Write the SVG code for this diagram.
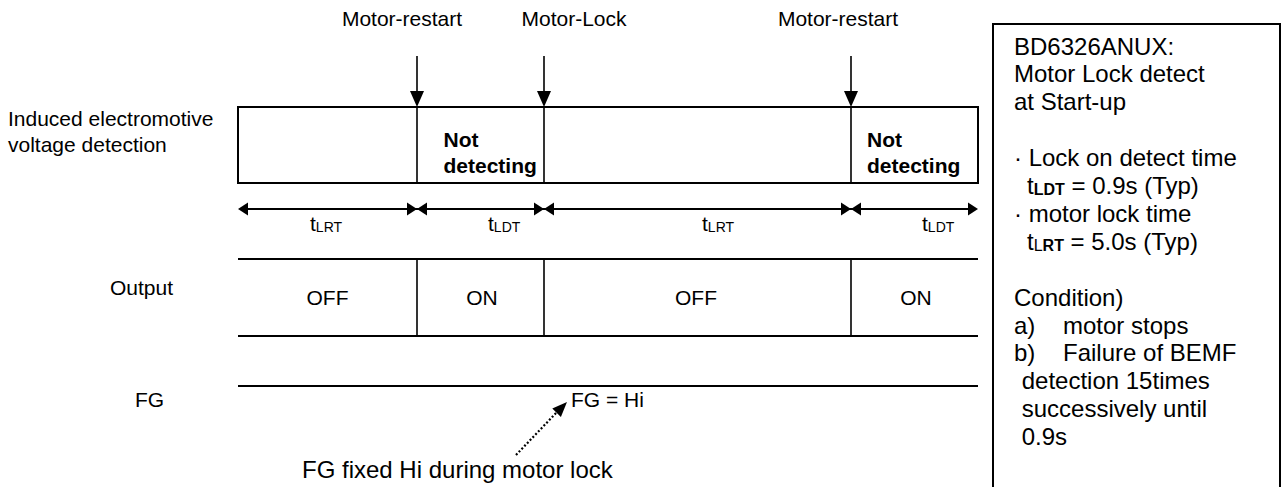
<svg xmlns="http://www.w3.org/2000/svg" width="1285" height="487" viewBox="0 0 1285 487">
<style>
text{font-family:"Liberation Sans",Arial,sans-serif;fill:#000}
.t21{font-size:21px}
.t24{font-size:24px}
.b{font-weight:bold}
.ln{stroke:#000;stroke-width:2;fill:none}
.thin{stroke:#000;stroke-width:1.6;fill:none}
.ah{fill:#000;stroke:none}
.sub{font-size:14px}
.psub{font-size:16px}
</style>
<rect width="1285" height="487" fill="#fff"/>

<g id="labels-left">
<text class="t21" x="8" y="126">Induced electromotive</text>
<text class="t21" x="8" y="152">voltage detection</text>
<text class="t21" x="110" y="295">Output</text>
<text class="t21" x="135" y="407">FG</text>
</g>

<g id="events">
<text class="t21" x="402" y="26" text-anchor="middle">Motor-restart</text>
<text class="t21" x="574" y="26" text-anchor="middle">Motor-Lock</text>
<text class="t21" x="838" y="26" text-anchor="middle">Motor-restart</text>
</g>

<g id="detection-row">
<rect class="ln" x="238" y="107" width="740" height="76"/>
<line class="thin" x1="417" y1="107" x2="417" y2="183"/>
<line class="thin" x1="544" y1="107" x2="544" y2="183"/>
<line class="thin" x1="851" y1="107" x2="851" y2="183"/>
<text class="t21 b" x="443.5" y="147">Not</text>
<text class="t21 b" x="443.5" y="173">detecting</text>
<text class="t21 b" x="867" y="147">Not</text>
<text class="t21 b" x="867" y="173">detecting</text>
</g>

<g id="output-row">
<line class="ln" x1="238" y1="259" x2="978" y2="259"/>
<line class="ln" x1="238" y1="336" x2="978" y2="336"/>
<line class="thin" x1="417" y1="259" x2="417" y2="336"/>
<line class="thin" x1="544" y1="259" x2="544" y2="336"/>
<line class="thin" x1="851" y1="259" x2="851" y2="336"/>
<text class="t21" x="327.5" y="305" text-anchor="middle">OFF</text>
<text class="t21" x="482" y="305" text-anchor="middle">ON</text>
<text class="t21" x="696" y="305" text-anchor="middle">OFF</text>
<text class="t21" x="916" y="305" text-anchor="middle">ON</text>
</g>

<g id="fg-row">
<line class="ln" x1="238" y1="386" x2="978" y2="386"/>
<text class="t21" x="571" y="407">FG = Hi</text>
<text class="t24" x="302" y="478">FG fixed Hi during motor lock</text>
</g>

<g id="connectors">
<line class="thin" x1="417" y1="56" x2="417" y2="92"/>
<polygon class="ah" points="410,91 424,91 417,107"/>
<line class="thin" x1="544" y1="56" x2="544" y2="92"/>
<polygon class="ah" points="537,91 551,91 544,107"/>
<line class="thin" x1="851" y1="56" x2="851" y2="92"/>
<polygon class="ah" points="844,91 858,91 851,107"/>

<line class="ln" x1="246" y1="209" x2="969" y2="209"/>
<polygon class="ah" points="238,209 248,202.5 248,215.5"/>
<polygon class="ah" points="417,209 407,202.5 407,215.5"/>
<polygon class="ah" points="417,209 427,202.5 427,215.5"/>
<polygon class="ah" points="544,209 534,202.5 534,215.5"/>
<polygon class="ah" points="544,209 554,202.5 554,215.5"/>
<polygon class="ah" points="851,209 841,202.5 841,215.5"/>
<polygon class="ah" points="851,209 861,202.5 861,215.5"/>
<polygon class="ah" points="978,209 968,202.5 968,215.5"/>

<line x1="516" y1="455" x2="557" y2="412" stroke="#000" stroke-width="2.2" stroke-dasharray="2,2"/>
<polygon class="ah" points="567,402 560.9,417 552.3,408.6"/>
</g>

<g id="durations">
<text class="t21" x="310" y="231">t<tspan class="sub" dy="1">LRT</tspan></text>
<text class="t21" x="488" y="231">t<tspan class="sub" dy="1">LDT</tspan></text>
<text class="t21" x="702" y="231">t<tspan class="sub" dy="1">LRT</tspan></text>
<text class="t21" x="922" y="231">t<tspan class="sub" dy="1">LDT</tspan></text>
</g>

<g id="note-panel">
<rect x="993" y="24" width="287" height="480" fill="none" stroke="#000" stroke-width="2"/>
<text class="t24" x="1014" y="54.5">BD6326ANUX:</text>
<text class="t24" x="1014" y="82.4">Motor Lock detect</text>
<text class="t24" x="1014" y="110.3">at Start-up</text>
<text class="t24" x="1014" y="166.1">· Lock on detect time</text>
<text class="t24" x="1027" y="194">t<tspan class="psub b" dy="1">LDT</tspan><tspan dy="-1"> = 0.9s (Typ)</tspan></text>
<text class="t24" x="1014" y="221.9">· motor lock time</text>
<text class="t24" x="1027" y="249.8">t<tspan class="psub" dy="1">L</tspan><tspan class="psub b">RT</tspan><tspan dy="-1"> = 5.0s (Typ)</tspan></text>
<text class="t24" x="1014" y="305.6">Condition)</text>
<text class="t24" x="1014" y="333.5">a)</text>
<text class="t24" x="1063" y="333.5">motor stops</text>
<text class="t24" x="1014" y="361.4">b)</text>
<text class="t24" x="1063" y="361.4">Failure of BEMF</text>
<text class="t24" x="1021.7" y="389.3">detection 15times</text>
<text class="t24" x="1021.7" y="417.2">successively until</text>
<text class="t24" x="1021.7" y="445.1">0.9s</text>
</g>
</svg>
